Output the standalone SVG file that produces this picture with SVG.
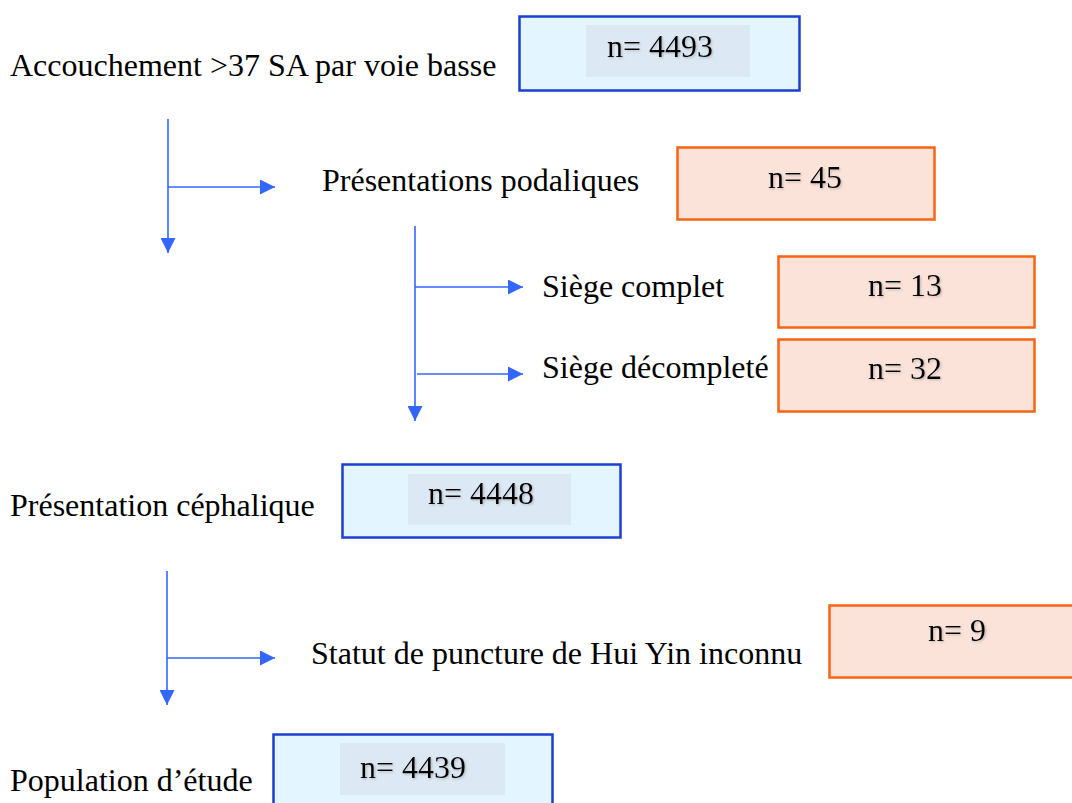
<svg xmlns="http://www.w3.org/2000/svg" width="1072" height="803" viewBox="0 0 1072 803">
<defs>
<marker id="ah" viewBox="0 0 10 10" refX="10" refY="5" markerWidth="15" markerHeight="15" markerUnits="userSpaceOnUse" orient="auto">
<path d="M0,0 L10,5 L0,10 Z" fill="#3366ff"/>
</marker>
<filter id="sh" x="-10%" y="-20%" width="130%" height="150%">
<feDropShadow dx="1.2" dy="1.2" stdDeviation="0.8" flood-color="#808080" flood-opacity="0.45"/>
</filter>
<style>
text{font-family:"Liberation Serif","Times New Roman",serif;font-size:32px;fill:#000}
.n{filter:url(#sh)}
.bb{fill:#e3f5fe;stroke:#1c3fd0;stroke-width:2.5}
.ob{fill:#fce3d9;stroke:#f96412;stroke-width:2.5}
.bi{fill:#dce8f4}
.c{stroke:#3366ff;stroke-width:1.6;fill:none}
.a{stroke:#3366ff;stroke-width:1.6;fill:none;marker-end:url(#ah)}
</style>
</defs>
<rect width="1072" height="803" fill="#fff"/>
<g id="connectors">
<path class="a" d="M168,119 V253"/>
<path class="a" d="M168,187 H275"/>
<path class="a" d="M415,226 V421"/>
<path class="a" d="M415,287 H523"/>
<path class="a" d="M417,374 H523"/>
<path class="a" d="M167,571 V705"/>
<path class="a" d="M167,658 H275"/>
</g>
<g id="n1">
<text x="10" y="76">Accouchement &gt;37 SA par voie basse</text>
<rect class="bb" x="519.5" y="16.5" width="280" height="74"/>
<rect class="bi" x="586" y="25" width="164" height="52"/>
<text class="n" x="607" y="57">n= 4493</text>
</g>
<g id="n2">
<text x="322" y="191">Présentations podaliques</text>
<rect class="ob" x="677.5" y="147.5" width="257" height="72"/>
<text class="n" x="768" y="188">n= 45</text>
</g>
<g id="n3">
<text x="542" y="297">Siège complet</text>
<rect class="ob" x="778.5" y="256.5" width="256" height="71"/>
<text class="n" x="868" y="296">n= 13</text>
</g>
<g id="n4">
<text x="542" y="378">Siège décompleté</text>
<rect class="ob" x="778.5" y="339.5" width="256" height="72"/>
<text class="n" x="868" y="379">n= 32</text>
</g>
<g id="n5">
<text x="10" y="516">Présentation céphalique</text>
<rect class="bb" x="342.5" y="464.5" width="278" height="73"/>
<rect class="bi" x="408" y="474" width="163" height="51"/>
<text class="n" x="428" y="504">n= 4448</text>
</g>
<g id="n6">
<text x="311" y="664">Statut de puncture de Hui Yin inconnu</text>
<rect class="ob" x="829.5" y="605.5" width="250" height="72"/>
<text class="n" x="928" y="641">n= 9</text>
</g>
<g id="n7">
<text x="10" y="791">Population d’étude</text>
<rect class="bb" x="273.5" y="734.5" width="279" height="80"/>
<rect class="bi" x="340" y="743" width="165" height="52"/>
<text class="n" x="360" y="778">n= 4439</text>
</g>
</svg>
